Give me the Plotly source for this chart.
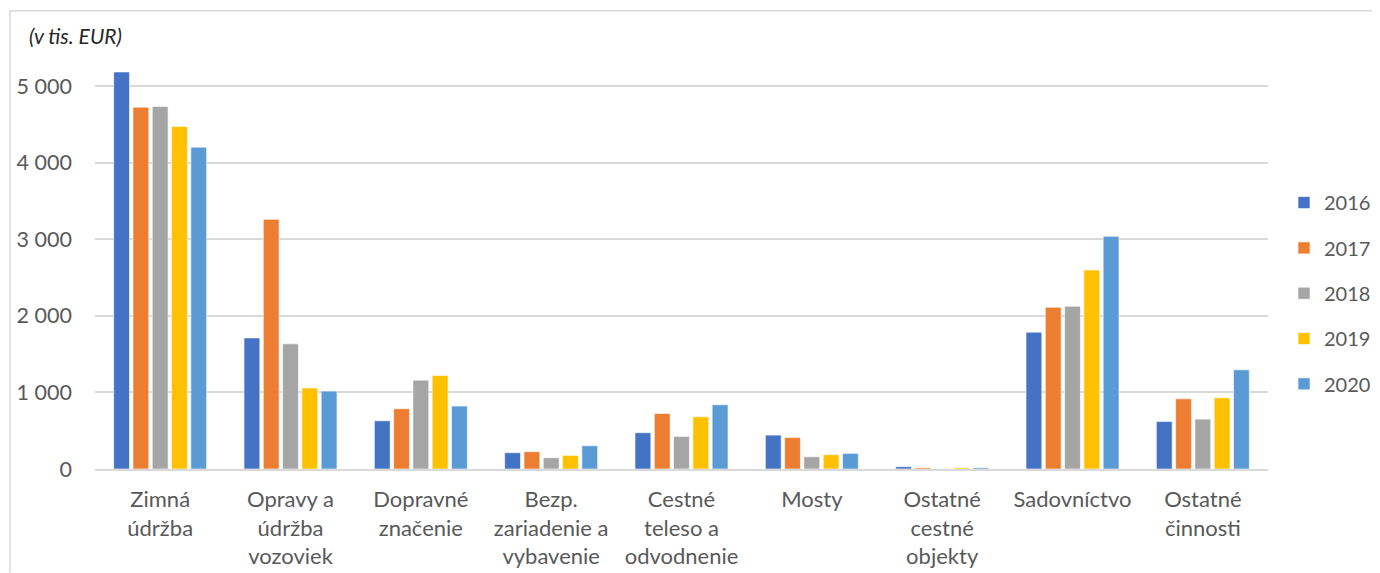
import plotly.graph_objects as go

categories = [
    "Zimná<br>údržba",
    "Opravy a<br>údržba<br>vozoviek",
    "Dopravné<br>značenie",
    "Bezp.<br>zariadenie a<br>vybavenie",
    "Cestné<br>teleso a<br>odvodnenie",
    "Mosty",
    "Ostatné<br>cestné<br>objekty",
    "Sadovníctvo",
    "Ostatné<br>činnosti",
]

years = ["2016", "2017", "2018", "2019", "2020"]

v2016 = [5187, 1713, 630, 213, 474, 443, 30, 1787, 621]
v2017 = [4727, 3262, 787, 226, 725, 412, 17, 2113, 917]
v2018 = [4736, 1635, 1161, 147, 425, 160, 5, 2126, 652]
v2019 = [4475, 1057, 1221, 178, 682, 187, 17, 2600, 930]
v2020 = [4205, 1018, 822, 304, 839, 204, 17, 3040, 1295]

series = [v2016, v2017, v2018, v2019, v2020]
colors = ["#4472C4", "#ED7D31", "#A5A5A5", "#FFC000", "#5B9BD5"]

tick_vals = [0, 1000, 2000, 3000, 4000, 5000]
tick_text = ["0", "1 000", "2 000", "3 000", "4 000", "5 000"]

FONT = "Lato"
TXT = "#595959"

fig = go.Figure()
for i, (yr, vals) in enumerate(zip(years, series)):
    fig.add_trace(go.Bar(
        x=categories, y=vals, name=yr,
        marker=dict(color=colors[i], line=dict(color="rgba(255,255,255,0.6)", width=1)),
        legendgroup=yr,
    ))

# page has an 8px body margin; figure coords = page coords - 8
OFF = 8
W, H = 1380 - OFF, 573 - OFF
L, R, T, B = 95 - OFF, 112, 47.7 - OFF, 573 - 469.3
pw = W - L - R
ph = H - T - B

def px_x(p):  # p in page pixels
    return (p - OFF - L) / pw

def px_y(p):
    return 1 - (p - OFF - T) / ph

fig.update_layout(
    width=W, height=H,
    margin=dict(l=L, r=R, t=T, b=B, autoexpand=False),
    paper_bgcolor="white", plot_bgcolor="white",
    barmode="group", bargap=0.26, bargroupgap=0.18,
    font=dict(family=FONT, size=20, color=TXT),
    showlegend=True,
    legend=dict(
        x=px_x(1284), y=px_y(183), xanchor="left", yanchor="top",
        font=dict(family=FONT, size=20, color=TXT),
        tracegroupgap=16.3, bgcolor="rgba(0,0,0,0)",
    ),
    xaxis=dict(
        automargin=False,
        showline=True, linecolor="#D9D9D9", linewidth=1.5,
        showgrid=False, ticks="", tickangle=0,
        tickfont=dict(family=FONT, size=22, color=TXT),
        ticklabelstandoff=10,
    ),
    yaxis=dict(
        automargin=False,
        range=[0, 5500], tickvals=tick_vals, ticktext=tick_text,
        showgrid=True, gridcolor="#D9D9D9", gridwidth=1.5,
        zeroline=False, showline=False, ticks="",
        tickfont=dict(family=FONT, size=21.5, color=TXT),
        ticklabelstandoff=22,
    ),
    annotations=[
        dict(text="<i>(v tis. EUR)</i>", xref="paper", yref="paper",
             x=px_x(27), y=px_y(35), xanchor="left", yanchor="middle",
             showarrow=False, font=dict(family=FONT, size=21, color="#262626")),
    ],
    shapes=[
        dict(type="line", xref="paper", yref="paper",
             x0=px_x(10), x1=px_x(1380), y0=px_y(10.5), y1=px_y(10.5),
             line=dict(color="#D9D9D9", width=1.5)),
        dict(type="line", xref="paper", yref="paper",
             x0=px_x(10), x1=px_x(10), y0=px_y(10.5), y1=px_y(573),
             line=dict(color="#D9D9D9", width=1.5)),
    ],
)

fig.write_html("out.html")
